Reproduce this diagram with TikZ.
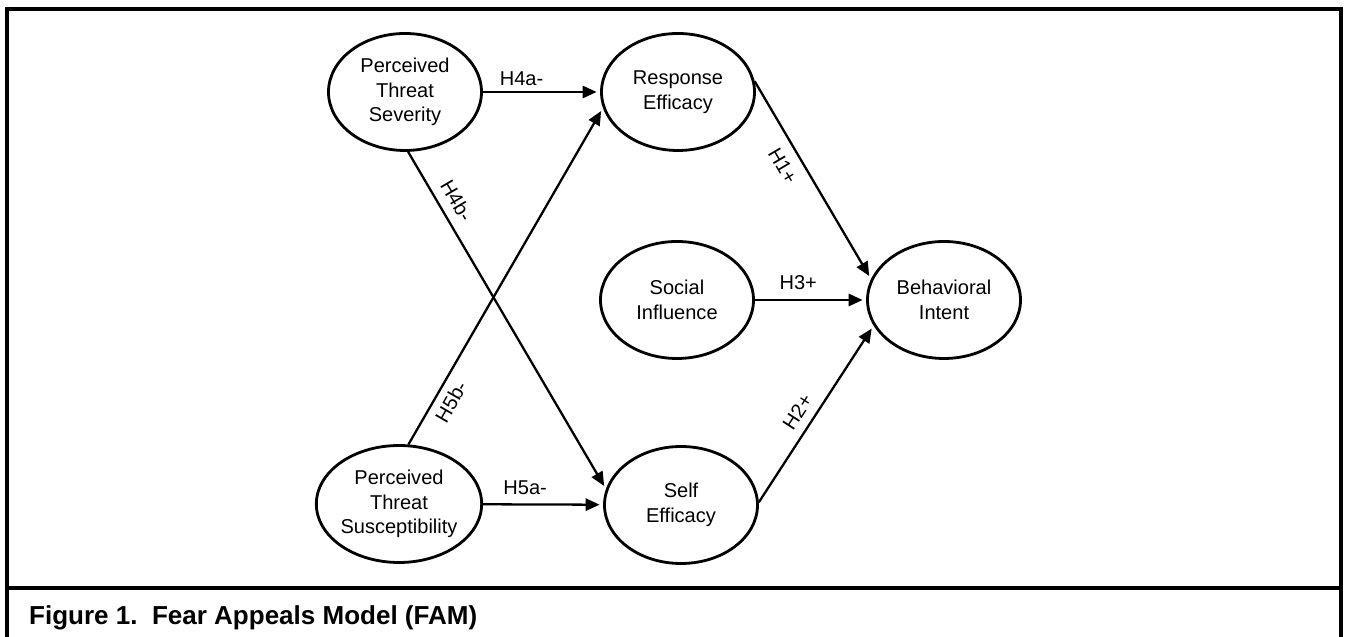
\documentclass[tikz,border=0pt]{standalone}
\usepackage{fontspec}
\setmainfont{Liberation Sans}
\usetikzlibrary{shapes.geometric, arrows.meta}

\begin{document}
\begin{tikzpicture}[>={Triangle[length=8pt,width=7pt]},
    construct/.style={draw, ellipse, line width=1.6pt, minimum width=3.06cm,
        minimum height=2.34cm, inner sep=0pt, align=center,
        font=\fontsize{11.4}{13.9}\selectfont},
    link/.style={->, line width=1.3pt, shorten >=2pt},
    hyp/.style={sloped, inner sep=2pt, font=\fontsize{11.4}{13.9}\selectfont}]
    \useasboundingbox (0,0) rectangle (26.94,12.74);

    \draw[line width=2.2pt] (0.14,0) -- (0.14,12.56) -- (26.82,12.56) -- (26.82,0);
    \draw[line width=2.2pt] (0.14,0.98) -- (26.82,0.98);
    \node[anchor=base west, font=\fontsize{14.8}{17}\selectfont\bfseries] (caption)
        at (0.46,0.24) {Figure 1.\ \ Fear Appeals Model (FAM)};

    \node[construct] (sev) at (8.10,10.90) {Perceived\\Threat\\Severity};
    \node[construct] (sus) at (7.98,2.66) {Perceived\\Threat\\Susceptibility};
    \node[construct] (resp) at (13.56,10.90) {Response\\Efficacy};
    \node[construct] (social) at (13.54,6.74) {Social\\Influence};
    \node[construct] (self) at (13.62,2.64) {Self\\Efficacy};
    \node[construct] (intent) at (18.88,6.74) {Behavioral\\Intent};

    \draw[link] (sev) -- node[hyp, pos=0.33, above=1pt] {H4a-} (resp);
    \draw[link] (sev.273) -- node[hyp, pos=0.17, above=3pt] {H4b-} (self.168);
    \draw[link] (sus) -- node[hyp, pos=0.35, above=3pt] {H5a-} (self);
    \draw[link] (sus.81) -- node[hyp, pos=0.15, below=2pt] {H5b-} (resp.192);
    \draw[link] (resp.8) -- node[hyp, pos=0.38, below=4pt] {H1+} (intent.164);
    \draw[link] (social) -- node[hyp, pos=0.39, above=3pt] {H3+} (intent);
    \draw[link] (self.2) -- node[hyp, pos=0.46, above=3pt] {H2+} (intent.200);
\end{tikzpicture}
\end{document}
